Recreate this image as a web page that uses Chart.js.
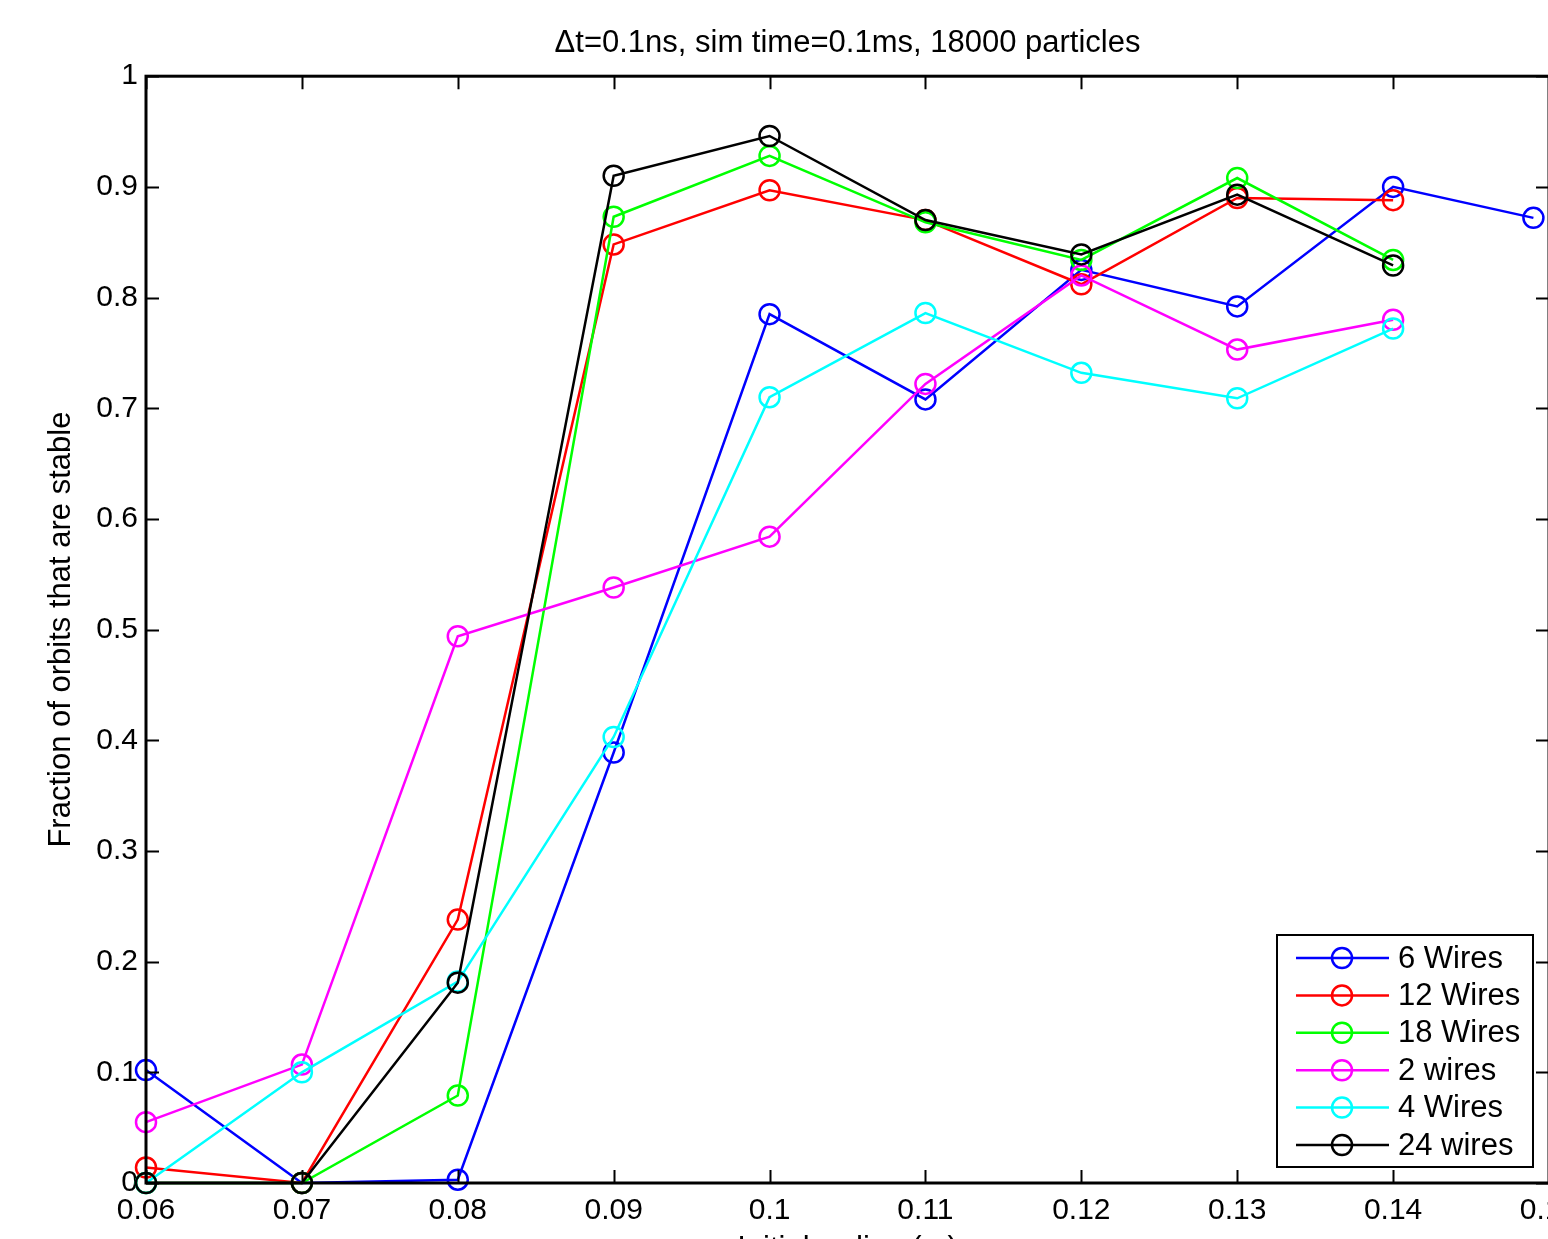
<!DOCTYPE html>
<html lang="en">
<head>
<meta charset="UTF-8">
<title>Fraction of stable orbits</title>
<script src="https://cdn.jsdelivr.net/npm/chart.js"></script>
<style>
  html, body { margin: 0; padding: 0; background: #fff; overflow: hidden; }
  #wrap { width: 1600px; height: 1280px; }
</style>
</head>
<body>
<div id="wrap"><canvas id="chart" width="1600" height="1280"></canvas></div>
<script>
// data
const xValues = [0.06, 0.07, 0.08, 0.09, 0.10, 0.11, 0.12, 0.13, 0.14];
const xSixWires = [0.06, 0.07, 0.08, 0.09, 0.10, 0.11, 0.12, 0.13, 0.14, 0.149];

const wires6  = [0.102, 0, 0.003, 0.389, 0.785, 0.708, 0.825, 0.792, 0.900, 0.872];
const wires12 = [0.014, 0, 0.238, 0.848, 0.897, 0.870, 0.812, 0.890, 0.888];
const wires18 = [0, 0, 0.079, 0.873, 0.928, 0.868, 0.834, 0.908, 0.834];
const wires2  = [0.055, 0.107, 0.494, 0.538, 0.584, 0.722, 0.820, 0.753, 0.780];
const wires4  = [0, 0.100, 0.182, 0.403, 0.710, 0.786, 0.732, 0.709, 0.772];
const wires24 = [0, 0, 0.181, 0.910, 0.946, 0.870, 0.839, 0.893, 0.829];

const xTicks = [0.06, 0.07, 0.08, 0.09, 0.10, 0.11, 0.12, 0.13, 0.14, 0.15];
const xTickLabels = ['0.06', '0.07', '0.08', '0.09', '0.1', '0.11', '0.12', '0.13', '0.14', '0.15'];
const yTicks = [0, 0.1, 0.2, 0.3, 0.4, 0.5, 0.6, 0.7, 0.8, 0.9, 1];
const yTickLabels = ['0', '0.1', '0.2', '0.3', '0.4', '0.5', '0.6', '0.7', '0.8', '0.9', '1'];

const FONT = '"Liberation Sans", Arial, sans-serif';

function pts(xs, ys) {
  return ys.map((y, i) => ({ x: xs[i], y: y }));
}

function series(label, xs, ys, color, order) {
  return {
    label: label,
    data: pts(xs, ys),
    borderColor: color,
    backgroundColor: color,
    borderWidth: 2.5,
    pointRadius: 10,
    pointHoverRadius: 10,
    pointBorderWidth: 2.5,
    pointBorderColor: color,
    pointBackgroundColor: 'rgba(0,0,0,0)',
    tension: 0,
    clip: false,
    order: order
  };
}

// box, inward ticks (matlab style)
const framePlugin = {
  id: 'frame',
  afterDatasetsDraw(chart) {
    const { ctx, chartArea: a, scales } = chart;
    const len = 13;
    ctx.save();
    ctx.strokeStyle = '#000';
    ctx.lineWidth = 2;
    xTicks.forEach(v => {
      const px = Math.round(scales.x.getPixelForValue(v)) + 0.5;
      ctx.beginPath();
      ctx.moveTo(px, a.bottom); ctx.lineTo(px, a.bottom - len);
      ctx.moveTo(px, a.top); ctx.lineTo(px, a.top + len);
      ctx.stroke();
    });
    yTicks.forEach(v => {
      const py = Math.round(scales.y.getPixelForValue(v)) + 0.5;
      ctx.beginPath();
      ctx.moveTo(a.left, py); ctx.lineTo(a.left + len, py);
      ctx.moveTo(a.right, py); ctx.lineTo(a.right - len, py);
      ctx.stroke();
    });
    ctx.lineWidth = 3;
    ctx.strokeRect(a.left, a.top, a.right - a.left, a.bottom - a.top);
    ctx.restore();
  }
};

const legendPlugin = {
  id: 'boxLegend',
  afterDraw(chart) {
    const ctx = chart.ctx;
    const sets = chart.data.datasets;
    const bx = 1277, by = 935, bw = 256, bh = 232;
    ctx.save();
    ctx.fillStyle = '#fff';
    ctx.fillRect(bx, by, bw, bh);
    ctx.strokeStyle = '#000';
    ctx.lineWidth = 2;
    ctx.strokeRect(bx, by, bw, bh);
    ctx.font = '31px ' + FONT;
    ctx.textBaseline = 'middle';
    sets.forEach((ds, i) => {
      const y = 958 + i * 37.4;
      ctx.strokeStyle = ds.borderColor;
      ctx.lineWidth = 2.5;
      ctx.beginPath();
      ctx.moveTo(1296, y); ctx.lineTo(1389, y);
      ctx.stroke();
      ctx.beginPath();
      ctx.arc(1342, y, 10, 0, Math.PI * 2);
      ctx.stroke();
      ctx.fillStyle = '#000';
      ctx.fillText(ds.label, 1398, y + 1);
    });
    ctx.restore();
  }
};

new Chart(document.getElementById('chart'), {
  type: 'line',
  data: {
    datasets: [
      series('6 Wires', xSixWires, wires6, '#0000ff', 6),
      series('12 Wires', xValues, wires12, '#ff0000', 5),
      series('18 Wires', xValues, wires18, '#00ff00', 4),
      series('2 wires', xValues, wires2, '#ff00ff', 3),
      series('4 Wires', xValues, wires4, '#00ffff', 2),
      series('24 wires', xValues, wires24, '#000000', 1)
    ]
  },
  options: {
    responsive: false,
    animation: false,
    layout: { padding: { left: 0, right: 51, top: 0, bottom: 0 } },
    plugins: {
      legend: { display: false },
      tooltip: { enabled: false },
      title: {
        display: true,
        fullSize: false,
        text: '\u0394t=0.1ns, sim time=0.1ms, 18000 particles',
        color: '#000',
        font: { family: FONT, size: 31, weight: 'normal' },
        padding: { top: 25, bottom: 14 }
      }
    },
    scales: {
      x: {
        type: 'linear',
        min: 0.06,
        max: 0.15,
        grid: { display: false, drawTicks: false },
        border: { display: false },
        afterBuildTicks(scale) { scale.ticks = xTicks.map(v => ({ value: v })); },
        afterFit(scale) { scale.height = 97; },
        ticks: {
          color: '#000',
          padding: 10,
          maxRotation: 0,
          autoSkip: false,
          font: { family: FONT, size: 30 },
          callback: (v, i) => xTickLabels[i]
        },
        title: {
          display: true,
          text: 'Initial radius (m)',
          color: '#000',
          font: { family: FONT, size: 31 },
          padding: { top: 0, bottom: 12 }
        }
      },
      y: {
        min: 0,
        max: 1,
        grid: { display: false, drawTicks: false },
        border: { display: false },
        afterBuildTicks(scale) { scale.ticks = yTicks.map(v => ({ value: v })); },
        afterFit(scale) { scale.width = 146; },
        ticks: {
          color: '#000',
          padding: 8,
          autoSkip: false,
          font: { family: FONT, size: 30 },
          callback: (v, i) => yTickLabels[i]
        },
        title: {
          display: true,
          text: 'Fraction of orbits that are stable',
          color: '#000',
          font: { family: FONT, size: 31 },
          padding: { top: 43, bottom: 0 }
        }
      }
    }
  },
  plugins: [framePlugin, legendPlugin]
});
</script>
</body>
</html>
